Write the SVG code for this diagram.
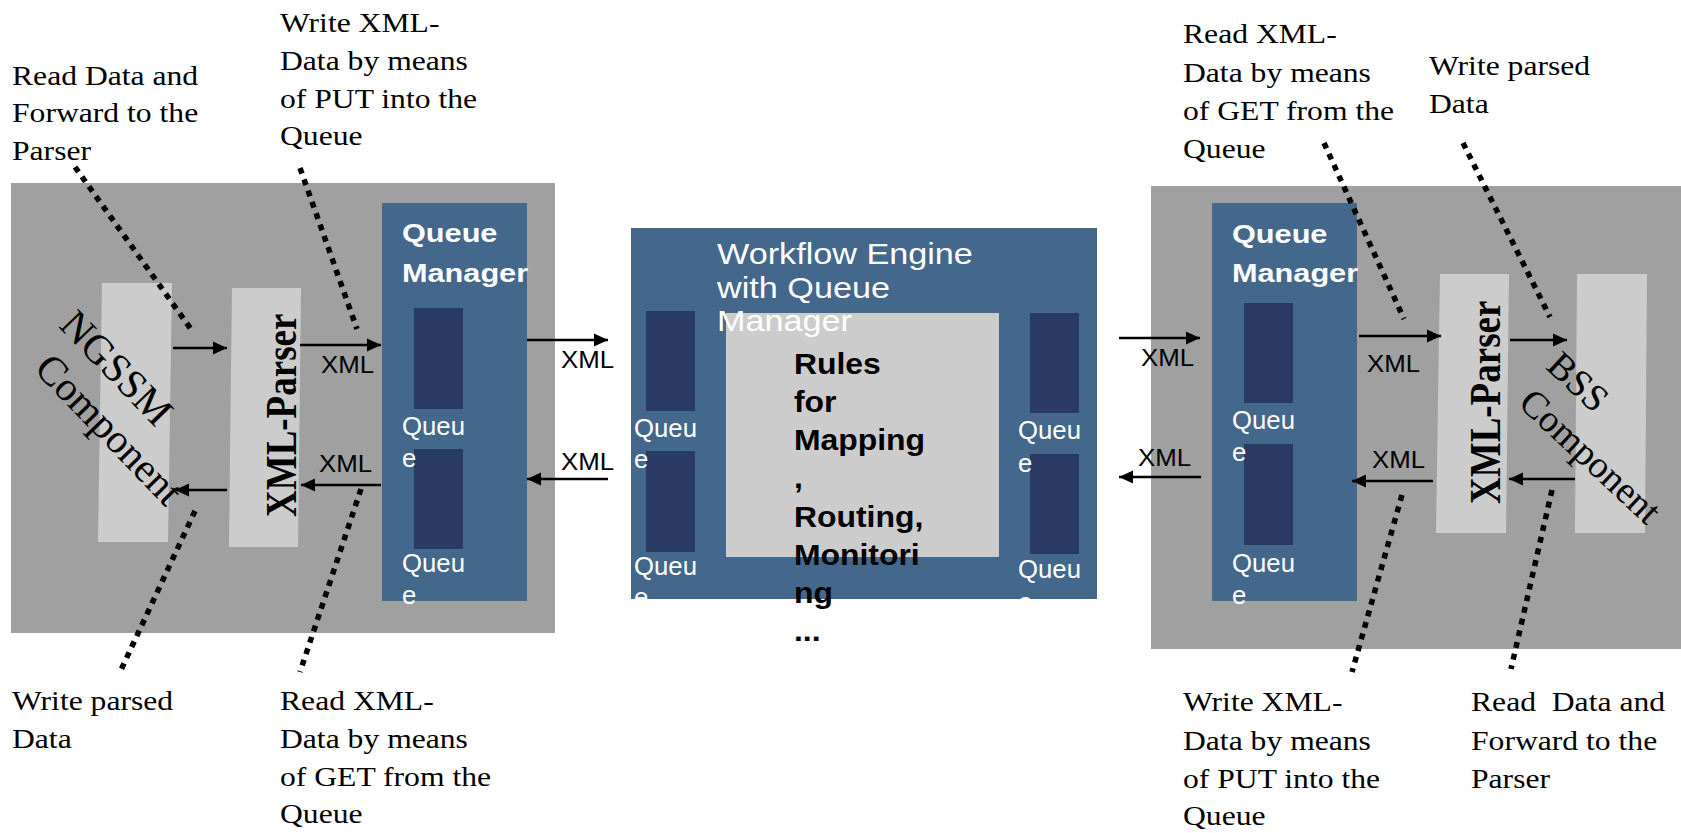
<svg xmlns="http://www.w3.org/2000/svg" width="1681" height="833" viewBox="0 0 1681 833">
<style>
.gray{fill:#a0a0a0}
.light{fill:#cccccc}
.blue{fill:#43688c}
.dark{fill:#293b63}
.lbl{font-family:"Liberation Serif","Times New Roman",serif;font-size:28px;fill:#000}
.xml{font-family:"Liberation Sans",Arial,sans-serif;font-size:23.5px;fill:#000}
.qm{font-family:"Liberation Sans",Arial,sans-serif;font-size:26px;font-weight:bold;fill:#fff}
.q{font-family:"Liberation Sans",Arial,sans-serif;font-size:25px;fill:#fff}
.title{font-family:"Liberation Sans",Arial,sans-serif;font-size:30px;fill:#fff}
.rules{font-family:"Liberation Sans",Arial,sans-serif;font-size:29px;font-weight:bold;fill:#000}
.parser{font-family:"Liberation Serif","Times New Roman",serif;font-size:37px;font-weight:bold;fill:#000}
.comp{font-family:"Liberation Serif","Times New Roman",serif;fill:#000}
.arrow{stroke:#000;stroke-width:2.5;fill:none;marker-end:url(#ah)}
.dot{stroke:#000;stroke-width:5.5;stroke-dasharray:6 6;fill:none}
</style>
<defs>
<marker id="ah" viewBox="0 0 14 14" markerUnits="userSpaceOnUse" markerWidth="14" markerHeight="14" refX="14" refY="7" orient="auto">
<path d="M0,0.5 L14,7 L0,13.5 z" fill="#000"/>
</marker>
<clipPath id="wfclip"><rect x="631" y="228" width="466" height="371"/></clipPath>
</defs>

<g id="left-component">
<rect class="gray" x="11" y="183" width="544" height="450"/>
<polygon class="light" points="102,283 172,283 168,542 98,542"/>
<polygon class="light" points="232,288 301,288 298,547 229,547"/>
<text class="comp" font-size="41" transform="translate(33 370) rotate(46)"><tspan x="-14" y="-48">NGSSM</tspan><tspan x="0" y="0">Component</tspan></text>
<text class="parser" transform="translate(296 517) scale(1.2 1) rotate(-90)">XML-Parser</text>
</g>

<g id="left-queue-manager">
<rect class="blue" x="382" y="203" width="145" height="398"/>
<rect class="dark" x="414" y="308" width="49" height="101"/>
<rect class="dark" x="414" y="449" width="49" height="100"/>
<text class="qm" transform="translate(402 242) scale(1.18 1)"><tspan x="0" y="0">Queue</tspan><tspan x="0" y="40">Manager</tspan></text>
<text class="q" transform="translate(402 435) scale(1.03 1)"><tspan x="0" y="0">Queu</tspan><tspan x="0" y="32">e</tspan><tspan x="0" y="137">Queu</tspan><tspan x="0" y="169">e</tspan></text>
</g>

<g id="workflow-engine">
<rect class="blue" x="631" y="228" width="466" height="371"/>
<rect class="light" x="726" y="313" width="273" height="244"/>
<rect class="dark" x="646" y="311" width="49" height="100"/>
<rect class="dark" x="646" y="451" width="49" height="101"/>
<rect class="dark" x="1030" y="313" width="49" height="100"/>
<rect class="dark" x="1030" y="454" width="49" height="100"/>
<g clip-path="url(#wfclip)">
<text class="q" transform="translate(634 437) scale(1.03 1)"><tspan x="0" y="0">Queu</tspan><tspan x="0" y="31">e</tspan><tspan x="0" y="138">Queu</tspan><tspan x="0" y="169">e</tspan></text>
<text class="q" transform="translate(1018 439) scale(1.03 1)"><tspan x="0" y="0">Queu</tspan><tspan x="0" y="33">e</tspan><tspan x="0" y="139">Queu</tspan><tspan x="0" y="172">e</tspan></text>
</g>
<text class="title" transform="translate(717 264) scale(1.14 1)"><tspan x="0" y="0">Workflow Engine</tspan><tspan x="0" y="34">with Queue</tspan><tspan x="0" y="67">Manager</tspan></text>
<text class="rules" transform="translate(794 374) scale(1.1 1)"><tspan x="0" y="0">Rules</tspan><tspan x="0" y="38">for</tspan><tspan x="0" y="76">Mapping</tspan><tspan x="0" y="114">,</tspan><tspan x="0" y="153">Routing,</tspan><tspan x="0" y="191">Monitori</tspan><tspan x="0" y="229">ng</tspan><tspan x="0" y="267">...</tspan></text>
</g>

<g id="right-component">
<rect class="gray" x="1151" y="186" width="530" height="463"/>
<polygon class="light" points="1440,274 1509,274 1506,533 1436,533"/>
<polygon class="light" points="1577,274 1647,274 1645,533 1575,533"/>
<text class="parser" transform="translate(1500 504) scale(1.2 1) rotate(-90)">XML-Parser</text>
<text class="comp" font-size="38" transform="translate(1517 405) rotate(43)"><tspan x="-5" y="-46">BSS</tspan><tspan x="0" y="0">Component</tspan></text>
</g>

<g id="right-queue-manager">
<rect class="blue" x="1212" y="203" width="145" height="398"/>
<rect class="dark" x="1244" y="303" width="49" height="100"/>
<rect class="dark" x="1244" y="444" width="49" height="101"/>
<text class="qm" transform="translate(1232 243) scale(1.18 1)"><tspan x="0" y="0">Queue</tspan><tspan x="0" y="39">Manager</tspan></text>
<text class="q" transform="translate(1232 429) scale(1.03 1)"><tspan x="0" y="0">Queu</tspan><tspan x="0" y="32">e</tspan><tspan x="0" y="143">Queu</tspan><tspan x="0" y="175">e</tspan></text>
</g>

<g id="connectors">
<line class="arrow" x1="173" y1="348" x2="227" y2="348"/>
<line class="arrow" x1="300" y1="345" x2="381" y2="345"/>
<line class="arrow" x1="381" y1="485" x2="301" y2="485"/>
<line class="arrow" x1="227" y1="490" x2="175" y2="490"/>
<line class="arrow" x1="527" y1="340" x2="608" y2="340"/>
<line class="arrow" x1="608" y1="479" x2="527" y2="479"/>
<line class="arrow" x1="1119" y1="338" x2="1200" y2="338"/>
<line class="arrow" x1="1201" y1="477" x2="1119" y2="477"/>
<line class="arrow" x1="1359" y1="336" x2="1441" y2="336"/>
<line class="arrow" x1="1433" y1="481" x2="1352" y2="481"/>
<line class="arrow" x1="1510" y1="340" x2="1567" y2="340"/>
<line class="arrow" x1="1575" y1="479" x2="1509" y2="479"/>
<text class="xml" transform="translate(321 373) scale(1.1 1)">XML</text>
<text class="xml" transform="translate(319 472) scale(1.1 1)">XML</text>
<text class="xml" transform="translate(561 368) scale(1.1 1)">XML</text>
<text class="xml" transform="translate(561 470) scale(1.1 1)">XML</text>
<text class="xml" transform="translate(1141 366) scale(1.1 1)">XML</text>
<text class="xml" transform="translate(1138 466) scale(1.1 1)">XML</text>
<text class="xml" transform="translate(1367 372) scale(1.1 1)">XML</text>
<text class="xml" transform="translate(1372 468) scale(1.1 1)">XML</text>
<line class="dot" x1="75" y1="167" x2="193" y2="332"/>
<line class="dot" x1="300" y1="168" x2="357" y2="329"/>
<line class="dot" x1="195" y1="511" x2="120" y2="672"/>
<line class="dot" x1="361" y1="489" x2="300" y2="672"/>
<line class="dot" x1="1324" y1="143" x2="1404" y2="319"/>
<line class="dot" x1="1463" y1="143" x2="1550" y2="317"/>
<line class="dot" x1="1402" y1="495" x2="1352" y2="672"/>
<line class="dot" x1="1552" y1="490" x2="1511" y2="669"/>
</g>

<g id="annotations">
<text class="lbl" transform="translate(12 85) scale(1.13 1)"><tspan x="0" y="0">Read Data and</tspan><tspan x="0" y="37.5">Forward to the</tspan><tspan x="0" y="75">Parser</tspan></text>
<text class="lbl" transform="translate(280 32) scale(1.13 1)"><tspan x="0" y="0">Write XML-</tspan><tspan x="0" y="38">Data by means</tspan><tspan x="0" y="76">of PUT into the</tspan><tspan x="0" y="113">Queue</tspan></text>
<text class="lbl" transform="translate(1183 43) scale(1.13 1)"><tspan x="0" y="0">Read XML-</tspan><tspan x="0" y="39">Data by means</tspan><tspan x="0" y="77">of GET from the</tspan><tspan x="0" y="115">Queue</tspan></text>
<text class="lbl" transform="translate(1429 75) scale(1.13 1)"><tspan x="0" y="0">Write parsed</tspan><tspan x="0" y="38">Data</tspan></text>
<text class="lbl" transform="translate(12 710) scale(1.13 1)"><tspan x="0" y="0">Write parsed</tspan><tspan x="0" y="38">Data</tspan></text>
<text class="lbl" transform="translate(280 710) scale(1.13 1)"><tspan x="0" y="0">Read XML-</tspan><tspan x="0" y="38">Data by means</tspan><tspan x="0" y="76">of GET from the</tspan><tspan x="0" y="113">Queue</tspan></text>
<text class="lbl" transform="translate(1183 711) scale(1.13 1)"><tspan x="0" y="0">Write XML-</tspan><tspan x="0" y="39">Data by means</tspan><tspan x="0" y="77">of PUT into the</tspan><tspan x="0" y="114">Queue</tspan></text>
<text class="lbl" transform="translate(1471 711) scale(1.13 1)" style="white-space:pre"><tspan x="0" y="0">Read  Data and</tspan><tspan x="0" y="39">Forward to the</tspan><tspan x="0" y="77">Parser</tspan></text>
</g>
</svg>
